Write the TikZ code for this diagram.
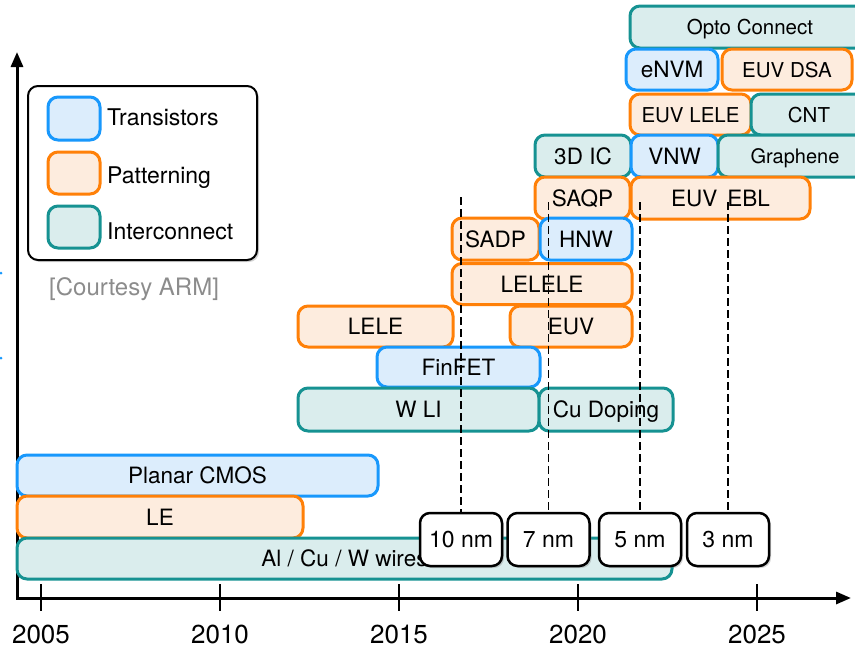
\documentclass[tikz,border=0pt]{standalone}
\usepackage{fontspec}
\setmainfont{TeX Gyre Heros}
\usetikzlibrary{arrows.meta,shadows}
\definecolor{tblue}{RGB}{24,152,252}
\definecolor{tfill}{RGB}{220,237,252}
\definecolor{porange}{RGB}{255,128,8}
\definecolor{pfill}{RGB}{253,236,222}
\definecolor{iteal}{RGB}{22,146,146}
\definecolor{ifill}{RGB}{218,237,237}
\begin{document}
\begin{tikzpicture}[x=1pt,y=-1pt,
  bar/.style={rounded corners=10pt,line width=3pt,inner sep=0pt,text height=16pt,text depth=0pt,font=\fontsize{22.5}{26}\selectfont},
  smalltxt/.style={font=\fontsize{20.5}{24}\selectfont,text height=15pt},
  trans/.style={bar,draw=tblue,fill=tfill},
  patt/.style={bar,draw=porange,fill=pfill},
  inter/.style={bar,draw=iteal,fill=ifill},
  nmbox/.style={bar,draw=black,fill=white,line width=2.5pt,minimum width=82pt,minimum height=53pt,font=\fontsize{23}{27}\selectfont,drop shadow={opacity=0.35,shadow xshift=2pt,shadow yshift=-2pt}},
  yrlabel/.style={anchor=base,inner sep=0pt,font=\fontsize{26}{30}\selectfont},
  guide/.style={dash pattern=on 8pt off 4pt,line width=1.2pt}]
\useasboundingbox (0,0) rectangle (855,648);
\fill[tblue] (1,273) circle (1.5);
\fill[tblue] (1,358) circle (1.5);
\coordinate (ytip) at (17,52);
\coordinate (origin) at (17,598);
\coordinate (xtip) at (851,598);
\draw[line width=3pt,{Triangle[length=15pt,width=12pt]}-{Triangle[length=15pt,width=12pt]}] (ytip) -- (origin) -- (xtip);
\foreach \yr in {2005,2010,...,2025}{
  \draw[line width=2.5pt] ({41+35.8*(\yr-2005)},584) -- ({41+35.8*(\yr-2005)},611);
  \node[yrlabel] (y\yr) at ({41+35.8*(\yr-2005)},643) {\yr};
}
\node[draw=black,line width=2pt,rounded corners=10pt,fill=white,minimum width=229pt,minimum height=174pt,drop shadow={opacity=0.35,shadow xshift=2pt,shadow yshift=-2pt}] (legend) at (142.5,173) {};
\node[trans,minimum width=52pt,minimum height=43pt] (swT) at (74,118.5) {};
\node[patt,minimum width=52pt,minimum height=42pt] (swP) at (74,173) {};
\node[inter,minimum width=52pt,minimum height=42pt] (swI) at (74,227) {};
\node[anchor=base west,inner sep=0pt,font=\fontsize{23}{27}\selectfont] (lbT) at (107,125) {Transistors};
\node[anchor=base west,inner sep=0pt,font=\fontsize{23}{27}\selectfont] (lbP) at (107,183) {Patterning};
\node[anchor=base west,inner sep=0pt,font=\fontsize{23}{27}\selectfont] (lbI) at (107,239) {Interconnect};
\node[anchor=base west,inner sep=0pt,text=black!45,font=\fontsize{24}{28}\selectfont] (courtesy) at (49,295) {[Courtesy ARM]};
\node[inter,smalltxt,minimum width=240pt,minimum height=42pt] (opto) at (750,27) {Opto Connect};
\node[trans,minimum width=92pt,minimum height=41pt] (envm) at (672,69.5) {eNVM};
\node[patt,smalltxt,minimum width=130pt,minimum height=41pt] (euvdsa) at (787,69.5) {EUV DSA};
\node[patt,smalltxt,minimum width=121pt,minimum height=41pt] (euvlele) at (690.5,114.5) {EUV LELE};
\node[inter,smalltxt,minimum width=116pt,minimum height=41pt] (cnt) at (809,114.5) {CNT};
\node[inter,minimum width=96pt,minimum height=42pt] (ic3d) at (583,156) {3D IC};
\node[trans,minimum width=87pt,minimum height=42pt] (vnw) at (674.5,156) {VNW};
\node[inter,font=\fontsize{20}{24}\selectfont,text height=15pt,minimum width=154pt,minimum height=42pt] (graphene) at (795,156) {Graphene};
\node[patt,minimum width=95pt,minimum height=42pt] (saqp) at (582.5,198) {SAQP};
\node[patt,minimum width=179pt,minimum height=42pt] (euvebl) at (720.5,198) {EUV\hspace{10pt}EBL};
\node[patt,minimum width=87pt,minimum height=42pt] (sadp) at (495.5,239) {SADP};
\node[trans,minimum width=92pt,minimum height=42pt] (hnw) at (586,239) {HNW};
\node[patt,minimum width=180pt,minimum height=41pt] (lelele) at (542,284) {LELELE};
\node[patt,minimum width=155pt,minimum height=41pt] (lele) at (375.5,326.5) {LELE};
\node[patt,minimum width=122pt,minimum height=41pt] (euv) at (571,326.5) {EUV};
\node[trans,minimum width=163pt,minimum height=40pt] (finfet) at (458.5,367) {FinFET};
\node[inter,minimum width=241pt,minimum height=43pt] (wli) at (418.5,409.5) {W LI};
\node[inter,minimum width=134pt,minimum height=43pt] (cudop) at (606,409.5) {Cu Doping};
\node[trans,minimum width=361pt,minimum height=41pt] (cmos) at (197.5,475.5) {Planar CMOS};
\node[patt,minimum width=286pt,minimum height=42pt] (le) at (160,517) {LE};
\node[inter,minimum width=655pt,minimum height=41pt] (wire) at (344.5,558.5) {Al / Cu / W wires};
\coordinate (top10) at (461,197);
\coordinate (top7) at (548.5,202);
\coordinate (top5) at (640,202);
\coordinate (top3) at (728,202);
\draw[guide] (top10) -- (461,513);
\draw[guide] (top7) -- (548.5,513);
\draw[guide] (top5) -- (640,513);
\draw[guide] (top3) -- (728,513);
\node[nmbox] (n10) at (461,539.5) {10 nm};
\node[nmbox] (n7) at (548.5,539.5) {7 nm};
\node[nmbox] (n5) at (640,539.5) {5 nm};
\node[nmbox] (n3) at (728,539.5) {3 nm};
\end{tikzpicture}
\end{document}
